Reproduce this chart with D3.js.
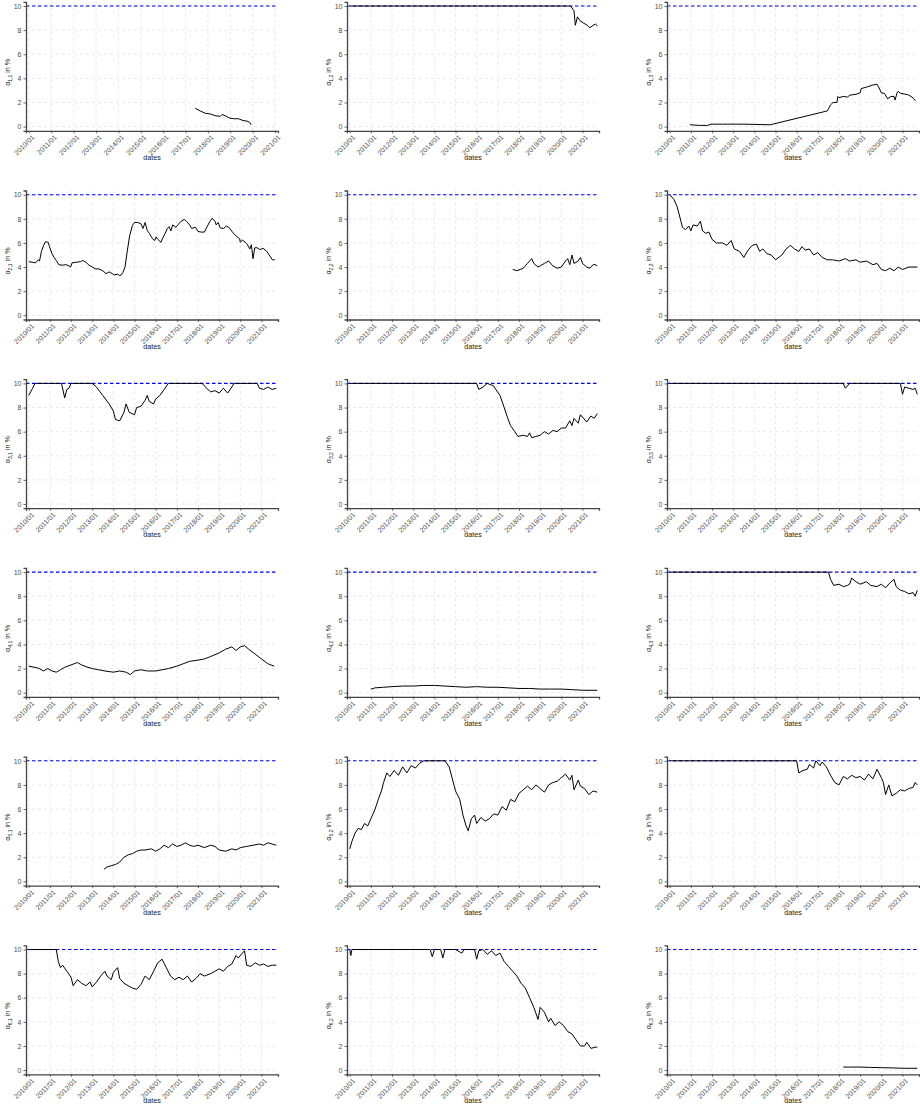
<!DOCTYPE html>
<html>
<head>
<meta charset="utf-8">
<script src="https://cdn.jsdelivr.net/npm/d3@7"></script>
<style>
  html, body { margin: 0; padding: 0; background: #ffffff; }
  svg { display: block; font-family: "Liberation Sans", Arial, Helvetica, sans-serif; }
</style>
</head>
<body>
<svg id="chart" width="920" height="1106"></svg>
<script>
// Year ticks along every x axis and value ticks along every y axis
const yearTickLabels = ["2010/01","2011/01","2012/01","2013/01","2014/01","2015/01",
                        "2016/01","2017/01","2018/01","2019/01","2020/01","2021/01"];
const valueTicks = [0, 2, 4, 6, 8, 10];
const capLevel = 10;

// Panel subscripts (row,column)
const panelNames = ["1,1","1,2","1,3","2,1","2,2","2,3","3,1","3,2","3,3",
                    "4,1","4,2","4,3","5,1","5,2","5,3","6,1","6,2","6,3"];

// Last date on each panel's time axis (decimal year)
const axisEnd = [2021.13, 2021.78, 2021.78, 2021.78, 2021.78, 2021.78,
                 2021.78, 2021.78, 2021.78, 2021.78, 2021.78, 2021.78,
                 2021.78, 2021.78, 2021.78, 2021.78, 2021.78, 2021.78];

// Series: [decimal year, alpha in %]
const alpha11 = [[2017.43,1.52],[2017.65,1.3],[2017.88,1.1],[2018.1,1.05],[2018.33,0.9],[2018.55,0.85],
  [2018.63,1.0],[2018.78,0.9],[2018.97,0.7],[2019.15,0.65],[2019.37,0.65],[2019.57,0.5],[2019.75,0.45],
  [2019.87,0.35],[2019.93,0.15]];
const alpha12 = [[2010.0,10],[2020.44,10],[2020.6,9.6],[2020.66,8.4],[2020.76,9.1],[2020.87,8.8],
  [2021.03,8.6],[2021.23,8.4],[2021.35,8.2],[2021.5,8.4],[2021.61,8.5],[2021.71,8.35]];
const alpha13 = [[2010.95,0.15],[2011.4,0.1],[2011.8,0.1],[2011.95,0.2],[2012.5,0.2],[2013.5,0.2],
  [2014.75,0.15],[2017.45,1.3],[2017.6,1.8],[2017.72,2.0],[2017.9,2.0],[2017.95,2.5],[2018.0,2.4],
  [2018.2,2.5],[2018.4,2.45],[2018.5,2.6],[2018.85,2.7],[2019.0,2.8],[2019.05,3.15],[2019.35,3.3],
  [2019.6,3.45],[2019.8,3.5],[2019.9,3.2],[2020.0,2.8],[2020.15,2.75],[2020.3,2.3],[2020.45,2.5],
  [2020.6,2.5],[2020.65,2.2],[2020.75,2.85],[2020.8,2.9],[2020.92,2.75],[2021.08,2.7],[2021.25,2.65],
  [2021.4,2.5],[2021.52,2.35],[2021.6,2.15]];
const alpha21 = [[2010.0,4.45],[2010.16,4.4],[2010.32,4.35],[2010.45,4.6],[2010.51,4.5],[2010.6,5.3],
  [2010.7,5.8],[2010.79,6.1],[2010.92,6.05],[2010.98,5.7],[2011.1,5.1],[2011.2,4.8],[2011.3,4.55],
  [2011.42,4.2],[2011.58,4.15],[2011.75,4.2],[2011.9,4.1],[2011.98,4.0],[2012.05,4.35],[2012.25,4.4],
  [2012.45,4.45],[2012.55,4.55],[2012.7,4.4],[2012.85,4.15],[2013.0,4.0],[2013.15,3.85],[2013.3,3.85],
  [2013.5,3.7],[2013.65,3.45],[2013.8,3.6],[2013.95,3.45],[2014.05,3.35],[2014.2,3.4],[2014.3,3.3],
  [2014.38,3.35],[2014.45,3.55],[2014.55,4.0],[2014.65,5.25],[2014.77,6.6],[2014.9,7.45],[2015.0,7.7],
  [2015.15,7.7],[2015.3,7.6],[2015.4,7.2],[2015.5,7.7],[2015.6,7.05],[2015.7,6.8],[2015.85,6.35],
  [2015.95,6.2],[2016.02,6.5],[2016.1,6.3],[2016.25,6.05],[2016.33,6.4],[2016.45,6.8],[2016.55,7.2],
  [2016.63,7.35],[2016.72,7.0],[2016.8,7.5],[2016.95,7.3],[2017.05,7.5],[2017.2,7.8],[2017.35,7.95],
  [2017.45,7.8],[2017.6,7.5],[2017.7,7.2],[2017.88,7.3],[2018.0,6.95],[2018.15,6.9],[2018.3,6.9],
  [2018.4,7.25],[2018.55,7.75],[2018.67,8.05],[2018.8,7.8],[2018.86,7.5],[2018.95,7.7],[2019.05,7.25],
  [2019.2,7.2],[2019.35,7.4],[2019.48,7.25],[2019.65,6.85],[2019.85,6.5],[2019.97,6.35],[2020.0,6.05],
  [2020.1,6.25],[2020.3,5.95],[2020.45,5.5],[2020.52,5.85],[2020.6,4.7],[2020.68,5.6],[2020.8,5.6],
  [2020.92,5.45],[2021.08,5.55],[2021.25,5.3],[2021.4,4.9],[2021.52,4.6],[2021.63,4.6]];
const alpha22 = [[2017.7,3.8],[2017.9,3.7],[2018.2,3.9],[2018.4,4.3],[2018.6,4.7],[2018.7,4.3],
  [2018.9,4.0],[2019.0,4.1],[2019.2,4.3],[2019.4,4.5],[2019.6,4.1],[2019.8,3.9],[2020.0,4.0],
  [2020.2,4.5],[2020.3,4.7],[2020.4,4.2],[2020.5,5.0],[2020.6,4.3],[2020.8,4.5],[2020.9,4.8],
  [2021.0,4.3],[2021.2,4.0],[2021.35,3.9],[2021.5,4.2],[2021.6,4.2],[2021.7,4.1]];
const alpha23 = [[2010.0,10],[2010.2,9.6],[2010.35,9.0],[2010.5,8.0],[2010.6,7.3],[2010.75,7.1],
  [2010.9,7.4],[2011.0,7.0],[2011.1,7.5],[2011.3,7.4],[2011.45,7.8],[2011.55,7.0],[2011.7,6.8],
  [2011.85,6.9],[2012.0,6.3],[2012.2,6.0],[2012.5,6.0],[2012.7,5.8],[2012.9,6.2],[2013.05,5.5],
  [2013.3,5.3],[2013.5,4.8],[2013.7,5.4],[2013.9,5.8],[2014.1,5.9],[2014.25,5.3],[2014.4,5.5],
  [2014.6,5.1],[2014.8,5.0],[2015.0,4.6],[2015.3,5.0],[2015.5,5.5],[2015.7,5.8],[2015.9,5.5],
  [2016.1,5.3],[2016.25,5.7],[2016.4,5.4],[2016.6,5.5],[2016.8,5.0],[2017.0,5.2],[2017.2,4.8],
  [2017.45,4.6],[2017.7,4.6],[2018.0,4.5],[2018.3,4.7],[2018.5,4.5],[2018.8,4.6],[2019.0,4.4],
  [2019.3,4.5],[2019.6,4.2],[2019.8,4.3],[2020.0,3.8],[2020.2,3.7],[2020.4,3.9],[2020.6,3.7],
  [2020.8,4.0],[2021.0,3.8],[2021.3,4.0],[2021.7,4.0]];
const alpha31 = [[2010.0,9.0],[2010.15,9.5],[2010.3,10],[2011.55,10],[2011.7,8.8],[2011.8,9.5],
  [2011.9,9.6],[2012.0,10],[2013.0,10],[2013.2,9.7],[2013.5,9.0],[2013.8,8.3],[2014.0,7.7],[2014.1,7.0],
  [2014.3,6.9],[2014.5,7.6],[2014.6,8.3],[2014.75,7.6],[2015.0,7.4],[2015.1,8.0],[2015.3,8.1],
  [2015.5,8.6],[2015.6,9.0],[2015.7,8.5],[2015.9,8.3],[2016.0,8.7],[2016.2,9.0],[2016.4,9.5],
  [2016.6,10],[2018.2,10],[2018.4,9.6],[2018.6,9.3],[2018.8,9.4],[2019.0,9.2],[2019.2,9.6],[2019.4,9.2],
  [2019.6,9.7],[2019.7,10],[2020.8,10],[2020.9,9.6],[2021.1,9.5],[2021.3,9.7],[2021.5,9.5],[2021.7,9.6]];
const alpha32 = [[2010.0,10],[2016.0,10],[2016.1,9.5],[2016.3,9.7],[2016.5,10],[2016.8,9.8],[2016.9,9.5],
  [2017.1,9.0],[2017.3,8.0],[2017.45,7.2],[2017.6,6.5],[2017.8,6.0],[2017.95,5.6],[2018.2,5.7],
  [2018.4,5.6],[2018.5,5.9],[2018.6,5.5],[2018.8,5.6],[2019.0,5.7],[2019.2,6.0],[2019.4,5.8],
  [2019.6,6.1],[2019.8,6.0],[2020.0,6.3],[2020.2,6.3],[2020.4,6.9],[2020.5,6.5],[2020.6,7.1],
  [2020.8,6.7],[2020.9,7.4],[2021.0,7.2],[2021.2,6.8],[2021.4,7.3],[2021.55,7.1],[2021.7,7.5]];
const alpha33 = [[2010.0,10],[2018.2,10],[2018.3,9.6],[2018.5,10],[2020.9,10],[2021.0,9.1],[2021.1,9.7],
  [2021.3,9.6],[2021.5,9.5],[2021.6,9.6],[2021.7,9.1]];
const alpha41 = [[2010.0,2.2],[2010.3,2.1],[2010.5,2.0],[2010.7,1.8],[2010.9,2.0],[2011.1,1.8],[2011.3,1.7],
  [2011.5,1.9],[2011.7,2.1],[2012.0,2.3],[2012.3,2.5],[2012.5,2.3],[2012.8,2.1],[2013.0,2.0],[2013.3,1.9],
  [2013.6,1.8],[2014.0,1.7],[2014.3,1.8],[2014.6,1.7],[2014.8,1.5],[2015.0,1.8],[2015.3,1.9],[2015.6,1.8],
  [2016.0,1.8],[2016.3,1.9],[2016.6,2.0],[2017.0,2.2],[2017.3,2.4],[2017.6,2.6],[2018.0,2.7],[2018.3,2.8],
  [2018.6,3.0],[2019.0,3.3],[2019.3,3.6],[2019.6,3.8],[2019.8,3.5],[2020.0,3.8],[2020.2,3.9],[2020.4,3.6],
  [2020.7,3.2],[2021.0,2.8],[2021.3,2.4],[2021.6,2.2]];
const alpha42 = [[2011.0,0.3],[2011.2,0.4],[2011.6,0.45],[2012.0,0.5],[2012.5,0.55],[2013.0,0.55],
  [2013.5,0.6],[2014.0,0.6],[2014.5,0.55],[2015.0,0.5],[2015.5,0.45],[2016.0,0.5],[2016.5,0.45],
  [2017.0,0.45],[2017.5,0.4],[2018.0,0.35],[2018.5,0.35],[2019.0,0.3],[2019.5,0.3],[2020.0,0.3],
  [2020.5,0.25],[2021.0,0.2],[2021.7,0.2]];
const alpha43 = [[2010.0,10],[2017.5,10],[2017.6,9.4],[2017.75,8.9],[2018.0,9.0],[2018.2,8.8],[2018.4,8.9],
  [2018.5,9.0],[2018.6,9.5],[2018.8,9.2],[2019.0,9.0],[2019.3,9.2],[2019.5,8.9],[2019.8,8.8],[2020.0,9.0],
  [2020.2,8.7],[2020.4,9.1],[2020.6,9.4],[2020.7,8.8],[2020.9,8.5],[2021.1,8.4],[2021.3,8.2],[2021.5,8.3],
  [2021.6,8.0],[2021.7,8.5]];
const alpha51 = [[2013.55,1.0],[2013.7,1.2],[2013.9,1.3],[2014.1,1.4],[2014.3,1.6],[2014.5,2.0],[2014.7,2.2],
  [2014.9,2.3],[2015.1,2.5],[2015.3,2.6],[2015.5,2.6],[2015.8,2.7],[2016.0,2.5],[2016.2,2.7],[2016.4,3.0],
  [2016.6,2.8],[2016.8,3.1],[2017.0,2.9],[2017.2,3.0],[2017.4,3.2],[2017.6,3.0],[2017.8,2.9],[2018.0,3.0],
  [2018.3,2.8],[2018.6,3.0],[2018.8,2.9],[2019.0,2.6],[2019.3,2.5],[2019.6,2.7],[2019.8,2.6],[2020.0,2.8],
  [2020.3,2.9],[2020.6,3.0],[2020.9,3.1],[2021.1,3.0],[2021.3,3.2],[2021.5,3.1],[2021.7,3.0]];
const alpha52 = [[2010.0,2.7],[2010.1,3.3],[2010.25,4.0],[2010.4,4.4],[2010.55,4.3],[2010.7,4.8],
  [2010.85,4.6],[2011.0,5.2],[2011.2,6.0],[2011.35,6.8],[2011.5,7.5],[2011.6,8.2],[2011.75,9.0],
  [2011.9,8.7],[2012.1,9.2],[2012.3,8.8],[2012.5,9.5],[2012.7,9.0],[2012.9,9.6],[2013.1,9.4],[2013.3,9.8],
  [2013.5,10],[2014.5,10],[2014.7,9.5],[2014.85,8.5],[2015.0,7.5],[2015.2,6.8],[2015.35,5.5],[2015.5,4.6],
  [2015.6,4.2],[2015.75,5.2],[2015.9,5.5],[2016.0,4.8],[2016.2,5.3],[2016.4,5.0],[2016.6,5.2],[2016.8,5.6],
  [2017.0,5.5],[2017.2,6.2],[2017.4,5.9],[2017.6,6.8],[2017.8,6.6],[2018.0,7.3],[2018.2,7.6],[2018.4,7.9],
  [2018.6,7.6],[2018.8,8.0],[2019.0,7.7],[2019.2,7.4],[2019.4,8.0],[2019.6,8.2],[2019.8,8.3],[2020.0,8.6],
  [2020.2,8.9],[2020.4,8.4],[2020.5,8.8],[2020.6,7.6],[2020.8,8.4],[2020.9,7.9],[2021.1,7.7],[2021.3,7.2],
  [2021.5,7.5],[2021.7,7.4]];
const alpha53 = [[2010.0,10],[2016.0,10],[2016.1,9.0],[2016.3,9.2],[2016.5,9.3],[2016.6,9.7],[2016.8,9.4],
  [2016.9,10],[2017.1,9.6],[2017.2,9.9],[2017.4,9.5],[2017.6,8.8],[2017.8,8.2],[2018.0,8.0],[2018.2,8.7],
  [2018.4,8.5],[2018.6,8.8],[2018.8,8.6],[2019.0,8.7],[2019.2,8.4],[2019.4,8.9],[2019.6,8.5],[2019.8,9.3],
  [2020.0,8.6],[2020.1,8.2],[2020.2,7.2],[2020.35,8.0],[2020.5,7.1],[2020.7,7.3],[2020.9,7.6],[2021.1,7.5],
  [2021.3,7.7],[2021.5,7.8],[2021.6,8.2],[2021.7,8.0]];
const alpha61 = [[2010.0,10],[2011.3,10],[2011.4,9.0],[2011.5,8.5],[2011.6,8.7],[2011.8,8.2],[2012.0,7.7],
  [2012.1,7.0],[2012.3,7.5],[2012.5,7.2],[2012.7,7.0],[2012.9,7.3],[2013.0,6.9],[2013.2,7.3],[2013.4,7.8],
  [2013.6,8.2],[2013.7,7.8],[2013.9,7.5],[2014.0,8.1],[2014.2,8.5],[2014.3,7.6],[2014.5,7.2],[2014.7,7.0],
  [2014.9,6.8],[2015.1,6.7],[2015.3,7.1],[2015.5,7.8],[2015.7,7.5],[2015.9,8.2],[2016.1,8.9],[2016.3,9.2],
  [2016.5,8.5],[2016.7,7.8],[2016.9,7.5],[2017.1,7.7],[2017.3,7.5],[2017.5,7.8],[2017.7,7.3],[2017.9,7.6],
  [2018.1,8.0],[2018.3,7.8],[2018.6,8.0],[2018.8,8.2],[2019.0,8.4],[2019.2,8.2],[2019.4,8.6],[2019.6,8.8],
  [2019.8,9.5],[2019.9,9.3],[2020.1,9.7],[2020.2,9.9],[2020.3,8.7],[2020.5,8.6],[2020.7,8.9],[2020.9,8.7],
  [2021.1,8.8],[2021.3,8.6],[2021.5,8.7],[2021.7,8.7]];
const alpha62 = [[2010.0,10],[2010.05,9.5],[2010.1,10],[2013.8,10],[2013.9,9.4],[2014.0,10],[2014.3,10],
  [2014.4,9.3],[2014.5,10],[2015.0,10],[2015.2,9.8],[2015.3,9.7],[2015.4,10],[2015.9,10],[2016.0,9.2],
  [2016.1,9.9],[2016.3,10],[2016.5,9.6],[2016.7,9.9],[2016.9,9.5],[2017.1,9.7],[2017.3,9.0],[2017.5,8.6],
  [2017.7,8.2],[2017.9,7.8],[2018.1,7.2],[2018.3,6.8],[2018.5,6.0],[2018.7,5.2],[2018.9,4.2],[2019.0,5.2],
  [2019.2,4.8],[2019.4,4.0],[2019.5,4.3],[2019.7,3.7],[2019.9,4.0],[2020.1,3.7],[2020.3,3.2],[2020.5,3.0],
  [2020.7,2.5],[2020.9,2.0],[2021.1,2.0],[2021.2,2.3],[2021.4,1.8],[2021.6,1.9],[2021.7,1.9]];
const alpha63 = [[2018.2,0.25],[2018.5,0.25],[2019.0,0.25],[2019.5,0.22],[2020.0,0.2],[2020.5,0.18],
  [2021.0,0.15],[2021.7,0.15]];

const panelSeries = [alpha11, alpha12, alpha13, alpha21, alpha22, alpha23, alpha31, alpha32, alpha33,
                     alpha41, alpha42, alpha43, alpha51, alpha52, alpha53, alpha61, alpha62, alpha63];

// ---- layout ----
const colLeft = [26, 347, 667];
const plotW = 252, plotH = 129;
const rowTop0 = 1.8, rowPitch = 188.7;
const yDomain = [-0.35, 10.35];
const axisStart = 2009.87;
const fontFamily = "Liberation Sans, Arial, sans-serif";

const toDate = y => {
  const yr = Math.floor(y);
  const start = new Date(yr, 0, 1), end = new Date(yr + 1, 0, 1);
  return new Date(start.getTime() + (y - yr) * (end - start));
};

const svg = d3.select("#chart");
const tickDates = yearTickLabels.map(s => new Date(+s.slice(0, 4), +s.slice(5, 7) - 1, 1));

panelSeries.forEach((series, i) => {
  const r = Math.floor(i / 3), c = i % 3;
  const left = colLeft[c], top = rowTop0 + r * rowPitch;
  const g = svg.append("g").attr("transform", `translate(${left},${top})`);

  const x = d3.scaleTime().domain([toDate(axisStart), toDate(axisEnd[i])]).range([0, plotW]);
  const y = d3.scaleLinear().domain(yDomain).range([plotH, 0]);

  // dashed grid
  g.append("g").selectAll("line").data(valueTicks).join("line")
    .attr("x1", 0).attr("x2", plotW).attr("y1", d => y(d)).attr("y2", d => y(d))
    .attr("stroke", "#e0e0e0").attr("stroke-width", 0.7).attr("stroke-dasharray", "3,3");
  g.append("g").selectAll("line").data(tickDates).join("line")
    .attr("x1", d => x(d)).attr("x2", d => x(d)).attr("y1", 0).attr("y2", plotH)
    .attr("stroke", "#e0e0e0").attr("stroke-width", 0.7).attr("stroke-dasharray", "3,3");

  // cap reference line
  g.append("line")
    .attr("x1", 0).attr("x2", plotW).attr("y1", y(capLevel)).attr("y2", y(capLevel))
    .attr("stroke", "#0000ff").attr("stroke-width", 1.1).attr("stroke-dasharray", "3.5,2.5");

  // series line
  const line = d3.line().x(d => x(toDate(d[0]))).y(d => y(d[1]));
  g.append("path").datum(series).attr("d", line)
    .attr("fill", "none").attr("stroke", "#000").attr("stroke-width", 1)
    .attr("stroke-linejoin", "round");

  // y axis
  const yAxis = g.append("g").call(d3.axisLeft(y).tickValues(valueTicks).tickSize(2.5).tickPadding(2));
  yAxis.select(".domain").attr("stroke", "#444").attr("stroke-width", 1.3);
  yAxis.selectAll(".tick line").attr("stroke", "#444").attr("stroke-width", 0.8);
  yAxis.selectAll(".tick text").attr("fill", "#4d4d4d").attr("font-size", "7px")
    .attr("font-family", fontFamily);

  // x axis
  const xAxis = g.append("g").attr("transform", `translate(0,${plotH})`)
    .call(d3.axisBottom(x).tickValues(tickDates).tickSize(2.5).tickFormat((d, k) => yearTickLabels[k]));
  xAxis.select(".domain").attr("stroke", "#444").attr("stroke-width", 1.3);
  xAxis.selectAll(".tick line").attr("stroke", "#444").attr("stroke-width", 0.8);
  xAxis.selectAll(".tick text")
    .attr("fill", "#4d4d4d").attr("font-size", "7px")
    .attr("font-family", fontFamily)
    .attr("text-anchor", "end")
    .attr("y", 0).attr("dy", "0.71em")
    .attr("transform", "translate(2,3.5) rotate(-45)");

  // axis titles
  g.append("text")
    .attr("x", plotW / 2).attr("y", plotH + 29)
    .attr("text-anchor", "middle").attr("font-size", "7.2px").attr("fill", "#222")
    .attr("font-family", fontFamily)
    .text("dates");

  const yl = g.append("text")
    .attr("transform", `translate(-16,${plotH / 2 + 6}) rotate(-90)`)
    .attr("text-anchor", "middle").attr("font-size", "7.2px").attr("fill", "#222")
    .attr("font-family", fontFamily);
  yl.append("tspan").text("α");
  yl.append("tspan").attr("font-size", "5px").attr("dy", "2").text(panelNames[i]);
  yl.append("tspan").attr("dy", "-2").text(" in %");
});
</script>
</body>
</html>
